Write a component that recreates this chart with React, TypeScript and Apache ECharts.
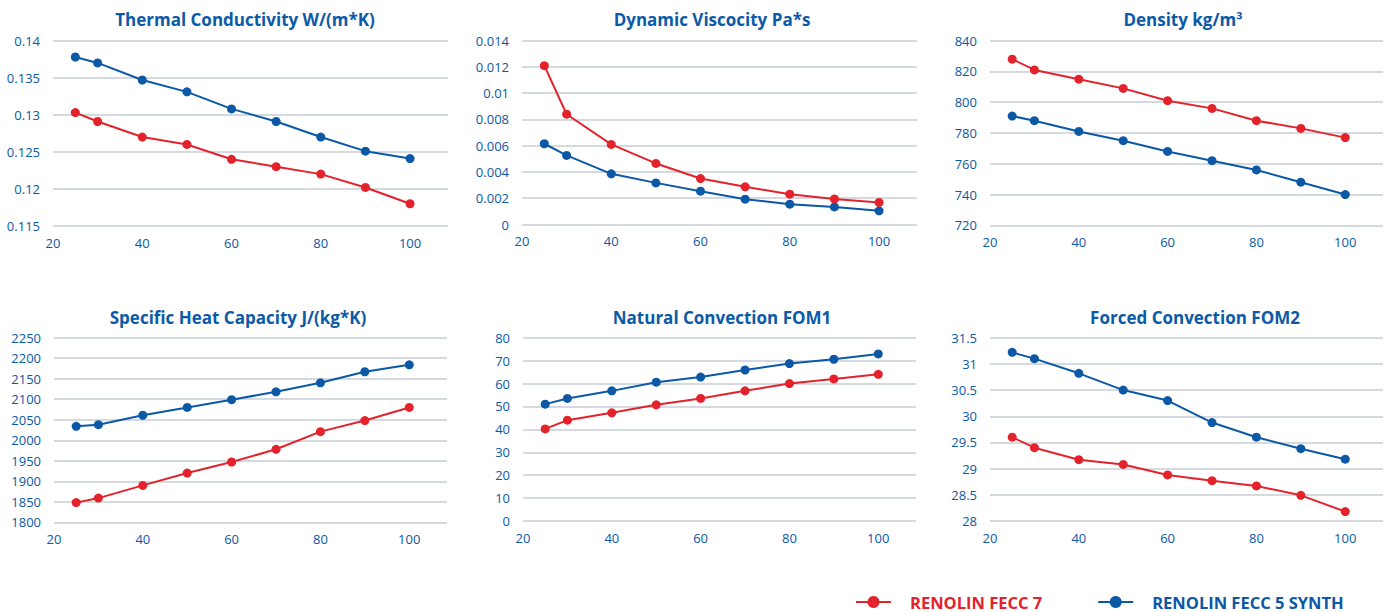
import React, { useEffect, useRef } from "react";
import * as echarts from "echarts";

const temps = [25, 30, 40, 50, 60, 70, 80, 90, 100];
const seriesNames = ["RENOLIN FECC 7", "RENOLIN FECC 5 SYNTH"];

const titles = [
  "Thermal Conductivity W/(m*K)",
  "Dynamic Viscocity Pa*s",
  "Density kg/m³",
  "Specific Heat Capacity J/(kg*K)",
  "Natural Convection FOM1",
  "Forced Convection FOM2",
];

const thermalRed = [0.1303, 0.1291, 0.127, 0.126, 0.124, 0.123, 0.122, 0.1202, 0.118];
const thermalBlue = [0.1378, 0.137, 0.1347, 0.1331, 0.1308, 0.1291, 0.127, 0.1251, 0.1241];
const viscRed = [0.0121, 0.0084, 0.0061, 0.00465, 0.0035, 0.00287, 0.00231, 0.00195, 0.00168];
const viscBlue = [0.00615, 0.00526, 0.00386, 0.00317, 0.00254, 0.00193, 0.00155, 0.00134, 0.00104];
const densRed = [828, 821, 815, 809, 801, 796, 788, 783, 777];
const densBlue = [791, 788, 781, 775, 768, 762, 756, 748, 740];
const heatRed = [1848, 1859, 1890, 1920, 1947, 1978, 2021, 2048, 2080];
const heatBlue = [2034, 2038, 2061, 2080, 2099, 2118, 2140, 2167, 2184];
const fom1Red = [40.2, 44, 47.2, 50.7, 53.5, 56.8, 60, 62, 64];
const fom1Blue = [51, 53.5, 56.8, 60.6, 62.8, 65.9, 68.7, 70.6, 72.9];
const fom2Red = [29.6, 29.4, 29.17, 29.08, 28.88, 28.77, 28.67, 28.49, 28.18];
const fom2Blue = [31.22, 31.1, 30.82, 30.5, 30.3, 29.88, 29.6, 29.38, 29.18];

const yMins = [0.115, 0, 720, 1800, 0, 28];
const yMaxs = [0.14, 0.014, 840, 2250, 80, 31.5];
const yIntervals = [0.005, 0.002, 20, 50, 10, 0.5];
const xTicks = [20, 40, 60, 80, 100];

const redData = [thermalRed, viscRed, densRed, heatRed, fom1Red, fom2Red];
const blueData = [thermalBlue, viscBlue, densBlue, heatBlue, fom1Blue, fom2Blue];

const RED = "#e4222b";
const BLUE = "#0a58a6";
const TITLE_BLUE = "#0b5aa8";
const GRID = "#c7ced6";

// layout: [left, right edge, top, bottom edge]
const layout = [
  [53, 448, 40.7, 226],
  [522, 917, 40.7, 224.5],
  [990, 1383, 40.7, 225.3],
  [54, 447, 337.7, 522.3],
  [523, 916, 337.7, 521],
  [990, 1383, 337.7, 521],
];
const titleCenters = [
  [245, 11],
  [712, 11],
  [1183, 11],
  [238, 309],
  [722, 309],
  [1195, 309],
];

export default function App() {
  const ref = useRef<HTMLDivElement>(null);
  useEffect(() => {
    if (!ref.current) return;
    const chart = echarts.init(ref.current, undefined, { renderer: "svg" });
    const font = "'Open Sans', 'Noto Sans', sans-serif";
    const grids = layout.map(([l, r, t, b]) => ({
      left: l,
      top: t,
      width: r - l,
      height: b - t,
      containLabel: false,
    }));
    const xAxes = layout.map((_, i) => ({
      type: "value",
      gridIndex: i,
      min: xTicks[0],
      max: 108.5,
      interval: 20,
      axisLine: { show: false },
      axisTick: { show: false },
      splitLine: { show: false },
      axisLabel: {
        showMaxLabel: false,
        color: BLUE,
        fontSize: 13,
        fontFamily: font,
        margin: 10,
      },
    }));
    const yAxes = layout.map((_, i) => ({
      type: "value",
      gridIndex: i,
      min: yMins[i],
      max: yMaxs[i],
      interval: yIntervals[i],
      axisLine: { show: false },
      axisTick: { show: false },
      splitLine: { show: true, lineStyle: { color: GRID, width: 1.5 } },
      axisLabel: {
        color: BLUE,
        fontSize: 13,
        fontFamily: font,
        margin: 13,
        formatter: (v: number) => String(parseFloat(v.toPrecision(6))),
      },
    }));
    const series: any[] = [];
    for (let i = 0; i < 6; i++) {
      [redData[i], blueData[i]].forEach((vals, k) => {
        series.push({
          name: seriesNames[k],
          type: "line",
          xAxisIndex: i,
          yAxisIndex: i,
          data: temps.map((t, j) => [t, vals[j]]),
          symbol: "circle",
          symbolSize: 9,
          lineStyle: { width: 2, color: k === 0 ? RED : BLUE },
          itemStyle: { color: k === 0 ? RED : BLUE },
          z: k === 0 ? 3 : 2,
        });
      });
    }
    const titleOpts = titles.map((text, i) => ({
      text,
      left: titleCenters[i][0],
      top: titleCenters[i][1],
      padding: 0,
      textAlign: "center",
      textStyle: {
        color: TITLE_BLUE,
        fontSize: 17,
        fontWeight: "bold",
        fontFamily: font,
      },
    }));
    chart.setOption({
      animation: false,
      backgroundColor: "#ffffff",
      title: titleOpts,
      grid: grids,
      xAxis: xAxes,
      yAxis: yAxes,
      series,
      legend: {
        left: 855,
        top: 593,
        padding: 0,
        itemWidth: 35,
        itemHeight: 15,
        itemGap: 55,
        selectedMode: false,
        data: [
          { name: seriesNames[0], textStyle: { color: RED } },
          { name: seriesNames[1], textStyle: { color: BLUE } },
        ],
        textStyle: {
          fontSize: 16.5,
          fontWeight: "bold",
          fontFamily: font,
          padding: [0, 0, 0, 14],
          lineHeight: 18,
        },
      },
    });
    return () => chart.dispose();
  }, []);
  return (
    <div
      ref={ref}
      style={{ position: "fixed", left: 0, top: 0, width: 1385, height: 612 }}
    />
  );
}
